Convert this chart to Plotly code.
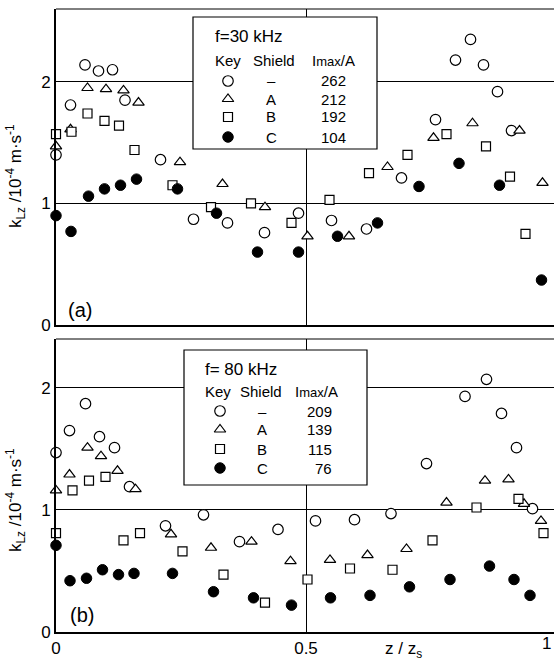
import plotly.graph_objects as go

# ---------------- data ----------------
# panel (a): f = 30 kHz
a_open_z = [0.0, 0.029, 0.058, 0.085, 0.113, 0.138, 0.209, 0.275, 0.343, 0.417,
            0.485, 0.551, 0.621, 0.691, 0.759, 0.799, 0.829, 0.855, 0.883, 0.911]
a_open_k = [1.40, 1.81, 2.14, 2.09, 2.10, 1.85, 1.36, 0.87, 0.84, 0.76,
            0.92, 0.86, 0.79, 1.21, 1.69, 2.18, 2.35, 2.14, 1.92, 1.60]
a_A_z = [0.0, 0.029, 0.063, 0.10, 0.135, 0.165, 0.248, 0.333, 0.418,
         0.503, 0.586, 0.663, 0.755, 0.833, 0.927, 0.973]
a_A_k = [1.47, 1.61, 1.95, 1.94, 1.93, 1.83, 1.34, 1.16, 0.97,
         0.73, 0.73, 1.30, 1.54, 1.66, 1.60, 1.17]
a_B_z = [0.0, 0.031, 0.063, 0.097, 0.126, 0.157, 0.233, 0.31, 0.39,
         0.471, 0.547, 0.626, 0.703, 0.781, 0.86, 0.908, 0.939]
a_B_k = [1.57, 1.59, 1.74, 1.68, 1.64, 1.44, 1.15, 0.97, 1.00,
         0.84, 1.03, 1.25, 1.40, 1.57, 1.47, 1.22, 0.75]
a_C_z = [0.0, 0.030, 0.065, 0.097, 0.129, 0.161, 0.243, 0.321, 0.403,
         0.485, 0.563, 0.643, 0.726, 0.806, 0.887, 0.971]
a_C_k = [0.90, 0.77, 1.06, 1.12, 1.15, 1.20, 1.12, 0.92, 0.60,
         0.60, 0.73, 0.84, 1.14, 1.33, 1.15, 0.37]

# panel (b): f = 80 kHz
b_open_z = [0.0, 0.027, 0.059, 0.087, 0.117, 0.147, 0.219, 0.295, 0.367, 0.444,
            0.519, 0.597, 0.67, 0.741, 0.818, 0.861, 0.891, 0.921, 0.953]
b_open_k = [1.47, 1.65, 1.87, 1.60, 1.51, 1.19, 0.87, 0.96, 0.74, 0.84,
            0.91, 0.92, 0.97, 1.38, 1.93, 2.07, 1.79, 1.51, 1.01]
b_A_z = [0.0, 0.027, 0.063, 0.09, 0.123, 0.159, 0.23, 0.31, 0.391,
         0.469, 0.548, 0.623, 0.701, 0.781, 0.858, 0.905, 0.936, 0.97]
b_A_k = [1.16, 1.29, 1.51, 1.44, 1.32, 1.17, 0.80, 0.69, 0.74,
         0.58, 0.59, 0.63, 0.68, 1.06, 1.24, 1.25, 1.05, 0.91]
b_B_z = [0.0, 0.033, 0.066, 0.099, 0.135, 0.168, 0.253, 0.335, 0.418,
         0.503, 0.588, 0.673, 0.753, 0.841, 0.925, 0.975]
b_B_k = [0.81, 1.16, 1.24, 1.27, 0.75, 0.81, 0.66, 0.47, 0.24,
         0.43, 0.52, 0.51, 0.75, 1.02, 1.09, 0.81]
b_C_z = [0.0, 0.028, 0.061, 0.093, 0.125, 0.156, 0.233, 0.315, 0.395,
         0.471, 0.549, 0.628, 0.707, 0.788, 0.867, 0.916, 0.948]
b_C_k = [0.71, 0.42, 0.44, 0.51, 0.47, 0.48, 0.48, 0.33, 0.28,
         0.22, 0.28, 0.30, 0.37, 0.43, 0.54, 0.43, 0.30]

# legend tables
shields = ["–", "A", "B", "C"]
imax_a = ["262", "212", "192", "104"]
imax_b = ["209", "139", "115", "76"]
freq_a = "f=30 kHz"
freq_b = "f= 80 kHz"

x_ticks = [0, 0.5, 1]
x_ticktext = ["0", "0.5", "1"]
y_ticks = [0, 1, 2]
y_ticktext = ["0", "1", "2"]

# ---------------- styling ----------------
W, H = 554, 661
FONT = "Liberation Sans"
BLACK = "black"

styles = [
    dict(symbol="circle", size=10.5, color="white", line=dict(color=BLACK, width=1.2)),
    dict(symbol="triangle-up", size=10, color="white", line=dict(color=BLACK, width=1.2)),
    dict(symbol="square", size=9, color="white", line=dict(color=BLACK, width=1.2)),
    dict(symbol="circle", size=10.5, color=BLACK, line=dict(color=BLACK, width=1)),
]

# pixel geometry of the two panels
X0_PX, XSCALE = 56, 500.0
panels = {
    "a": dict(top=9, bottom=325, ymax=2.6, xa="x", ya="y"),
    "b": dict(top=339, bottom=632, ymax=2.4, xa="x2", ya="y2"),
}


def to_data(panel, px, py):
    p = panels[panel]
    unit = (p["bottom"] - p["top"]) / p["ymax"]
    return (px - X0_PX) / XSCALE, (p["bottom"] - py) / unit


def paper(px, py):
    return px / W, 1 - py / H


fig = go.Figure()

series = {
    "a": [(a_open_z, a_open_k), (a_A_z, a_A_k), (a_B_z, a_B_k), (a_C_z, a_C_k)],
    "b": [(b_open_z, b_open_k), (b_A_z, b_A_k), (b_B_z, b_B_k), (b_C_z, b_C_k)],
}
for pn, lst in series.items():
    p = panels[pn]
    for (zs, ks), st in zip(lst, styles):
        fig.add_trace(go.Scatter(x=zs, y=ks, mode="markers", marker=st,
                                 xaxis=p["xa"], yaxis=p["ya"], cliponaxis=False,
                                 showlegend=False, hoverinfo="skip"))

# legend boxes (layout geometry in pixels)
legend_geo = {
    "a": dict(box=(193, 17, 377, 149), title=(213, 37), hdr_y=60,
              hdr_x=(213, 251, 310), sym_x=228, rows=[81, 99, 117, 137],
              sh_x=271, val_x=348, vals=imax_a, freq=freq_a),
    "b": dict(box=(184, 350, 367, 485), title=(203, 369), hdr_y=391,
              hdr_x=(203, 238, 293), sym_x=220, rows=[411, 429.5, 449, 468],
              sh_x=262, val_x=334, vals=imax_b, freq=freq_b),
}

annotations = []
shapes = []
for pn, g in legend_geo.items():
    p = panels[pn]
    bx0, by0, bx1, by1 = g["box"]
    x0d, y1d = to_data(pn, bx0, by0)
    x1d, y0d = to_data(pn, bx1, by1)
    shapes.append(dict(type="rect", xref=p["xa"], yref=p["ya"], x0=x0d, x1=x1d,
                       y0=y0d, y1=y1d, fillcolor="white",
                       line=dict(color=BLACK, width=1.2), layer="between"))
    # key symbols
    for st, ry in zip(styles, g["rows"]):
        sx, sy = to_data(pn, g["sym_x"], ry)
        fig.add_trace(go.Scatter(x=[sx], y=[sy], mode="markers", marker=dict(st),
                                 xaxis=p["xa"], yaxis=p["ya"], cliponaxis=False,
                                 showlegend=False, hoverinfo="skip"))
    tx, ty = paper(*g["title"])
    annotations.append(dict(text=g["freq"], x=tx, y=ty, xref="paper", yref="paper",
                            xanchor="left", yanchor="middle", showarrow=False,
                            font=dict(size=17, family=FONT, color=BLACK)))
    for txt, hx in zip(["Key", "Shield",
                        "I<span style='font-size:13px'>max</span>/A"], g["hdr_x"]):
        ax, ay = paper(hx, g["hdr_y"])
        annotations.append(dict(text=txt, x=ax, y=ay, xref="paper", yref="paper",
                                xanchor="left", yanchor="middle", showarrow=False,
                                font=dict(size=15, family=FONT, color=BLACK)))
    for sh, val, ry in zip(shields, g["vals"], g["rows"]):
        ax, ay = paper(g["sh_x"], ry)
        annotations.append(dict(text=sh, x=ax, y=ay, xref="paper", yref="paper",
                                xanchor="center", yanchor="middle", showarrow=False,
                                font=dict(size=15, family=FONT, color=BLACK)))
        ax, ay = paper(g["val_x"], ry)
        annotations.append(dict(text=val, x=ax, y=ay, xref="paper", yref="paper",
                                xanchor="right", yanchor="middle", showarrow=False,
                                font=dict(size=15, family=FONT, color=BLACK)))

# panel labels, axis titles
for txt, (px_, py_) in [("(a)", (80, 310)), ("(b)", (82, 615))]:
    ax, ay = paper(px_, py_)
    annotations.append(dict(text=txt, x=ax, y=ay, xref="paper", yref="paper",
                            xanchor="center", yanchor="middle", showarrow=False,
                            font=dict(size=20, family=FONT, color=BLACK)))
ytitle = "k<sub>Lz</sub> /10<sup>-4</sup> m·s<sup>-1</sup>"
for py_ in (176, 500):
    ax, ay = paper(16, py_)
    annotations.append(dict(text=ytitle, x=ax, y=ay, xref="paper", yref="paper",
                            xanchor="center", yanchor="middle", showarrow=False,
                            textangle=-90,
                            font=dict(size=17, family=FONT, color=BLACK)))
ax, ay = paper(403, 650)
annotations.append(dict(text="z / z<sub>s</sub>", x=ax, y=ay, xref="paper", yref="paper",
                        xanchor="center", yanchor="middle", showarrow=False,
                        font=dict(size=17, family=FONT, color=BLACK)))
# the x tick "1" sits at the very right edge of the figure
ax, ay = paper(W - 1, 643)
annotations.append(dict(text=x_ticktext[2], x=ax, y=ay, xref="paper", yref="paper",
                        xanchor="right", yanchor="middle", showarrow=False,
                        font=dict(size=17, family=FONT, color=BLACK)))

# thin top borders of the panels
for pn in ("a", "b"):
    p = panels[pn]
    shapes.append(dict(type="line", xref=p["xa"] + " domain", yref=p["ya"] + " domain",
                       x0=0, x1=1, y0=1, y1=1, line=dict(color=BLACK, width=1)))

xdom = [X0_PX / W, 1.0]
xrange_ = [0, (W - X0_PX) / XSCALE]
axis_common = dict(showline=True, linecolor=BLACK, linewidth=2, ticks="",
                   showgrid=True, gridcolor=BLACK, gridwidth=1, zeroline=False,
                   automargin=False,
                   tickfont=dict(size=17, family=FONT, color=BLACK))


def ydom(pn):
    p = panels[pn]
    return [1 - p["bottom"] / H, 1 - p["top"] / H]


fig.update_layout(
    width=W, height=H,
    margin=dict(l=0, r=0, t=0, b=0, autoexpand=False),
    paper_bgcolor="white", plot_bgcolor="white",
    font=dict(family=FONT, color=BLACK),
    showlegend=False,
    xaxis=dict(domain=xdom, range=xrange_, tickvals=x_ticks, ticktext=x_ticktext,
               showticklabels=False, anchor="y", **axis_common),
    yaxis=dict(domain=ydom("a"), range=[0, panels["a"]["ymax"]], tickvals=y_ticks,
               ticktext=y_ticktext, anchor="x", **axis_common),
    xaxis2=dict(domain=xdom, range=xrange_, tickvals=x_ticks, ticktext=x_ticktext,
                anchor="y2", **axis_common),
    yaxis2=dict(domain=ydom("b"), range=[0, panels["b"]["ymax"]], tickvals=y_ticks,
                ticktext=y_ticktext, anchor="x2", **axis_common),
    annotations=annotations,
    shapes=shapes,
)

# remove the default page margin so the figure fills the window exactly
fig.write_html("out.html",
               config={"displayModeBar": False},
               post_script="document.body.style.margin='0';"
                           "document.body.style.overflow='hidden';")
